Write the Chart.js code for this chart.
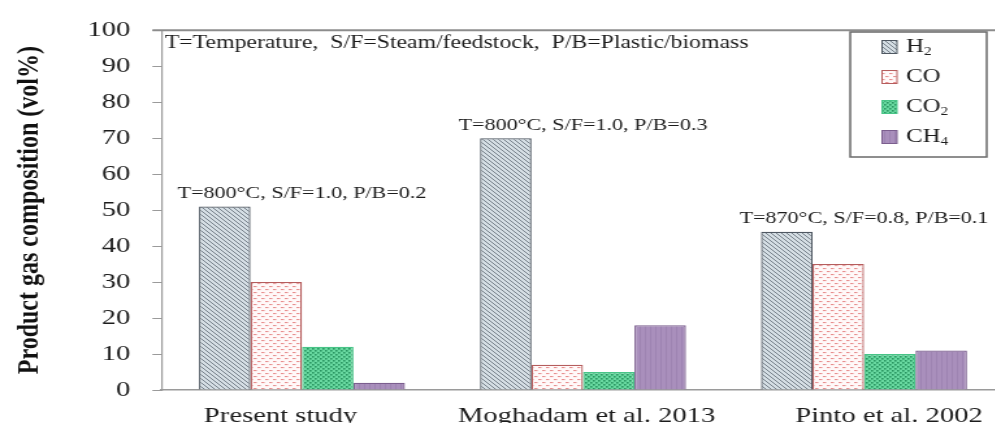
<!DOCTYPE html>
<html>
<head>
<meta charset="utf-8">
<script src="https://cdn.jsdelivr.net/npm/chart.js@4.4.1/dist/chart.umd.min.js"></script>
<style>
  html, body { margin: 0; padding: 0; background: #fff; overflow: hidden; width: 995px; height: 423px; }
  /* the figure is laid out in a narrower space and widened horizontally */
  #wrap { width: 780px; height: 423px; transform: scaleX(1.3); transform-origin: 0 0; }
</style>
</head>
<body>
<div id="wrap"><canvas id="c" width="780" height="423"></canvas></div>
<script>
// ---- data ----
const studies = ['Present study', 'Moghadam et al. 2013', 'Pinto et al. 2002'];
const conditions = ['T=800°C, S/F=1.0, P/B=0.2', 'T=800°C, S/F=1.0, P/B=0.3', 'T=870°C, S/F=0.8, P/B=0.1'];
const gasNames = ['H₂', 'CO', 'CO₂', 'CH₄'];
const h2Values  = [51, 70, 44];
const coValues  = [30, 7, 35];
const co2Values = [12, 5, 10];
const ch4Values = [2, 18, 11];
const yTicks = [0, 10, 20, 30, 40, 50, 60, 70, 80, 90, 100];
const yTitle = 'Product gas composition (vol%)';
const footnote = 'T=Temperature,  S/F=Steam/feedstock,  P/B=Plastic/biomass';

const SERIF = '"Liberation Serif", "Times New Roman", serif';
const TEXT = '#1c1c1c';
const canvas = document.getElementById('c');
const ctx0 = canvas.getContext('2d');

// ---- fill patterns for the bars ----
function tile(w, h, paint) {
  const t = document.createElement('canvas');
  t.width = w; t.height = h;
  paint(t.getContext('2d'));
  return ctx0.createPattern(t, 'repeat');
}
const patH2 = tile(4, 4, g => {
  g.fillStyle = '#d5dee4'; g.fillRect(0, 0, 4, 4);
  g.strokeStyle = '#5e6974'; g.lineWidth = 0.8;
  g.beginPath();
  g.moveTo(-1, -1); g.lineTo(5, 5);
  g.moveTo(-1, 3); g.lineTo(1, 5);
  g.moveTo(3, -1); g.lineTo(5, 1);
  g.stroke();
});
const patCO = tile(6, 6, g => {
  g.fillStyle = '#fff9f9'; g.fillRect(0, 0, 6, 6);
  g.fillStyle = '#e89090';
  g.fillRect(0, 1, 2.5, 1.1);
  g.fillRect(3, 4, 2.5, 1.1);
});
const patCO2 = tile(4, 4, g => {
  g.fillStyle = '#68d8a0'; g.fillRect(0, 0, 4, 4);
  g.fillStyle = '#2a9662';
  g.fillRect(0, 0, 1.6, 1.6);
  g.fillRect(2, 2, 1.6, 1.6);
});
const patCH4 = tile(4, 1, g => {
  g.fillStyle = '#a98fbc'; g.fillRect(0, 0, 4, 1);
  g.fillStyle = '#9e84b2'; g.fillRect(0, 0, 1, 1);
});

const seriesValues = [h2Values, coValues, co2Values, ch4Values];
const fills = [patH2, patCO, patCO2, patCH4];
const borders = ['#4f5862', '#b55d5d', '#48c487', '#7b5e8e'];

const datasets = gasNames.map((name, i) => ({
  label: name,
  data: seriesValues[i],
  backgroundColor: fills[i],
  borderColor: borders[i],
  borderWidth: 1.3,
  borderSkipped: 'bottom',
  barPercentage: 1.0,
  categoryPercentage: 0.733
}));

// spaces before (+) or after (-) each category label, nudging it sideways
const labelNudge = [-6, 1, 7];
function nudged(text, n) {
  return n >= 0 ? ' '.repeat(n) + text : text + ' '.repeat(-n);
}

// text with unicode subscript digits drawn as real lowered small digits
function drawRich(ctx, text, x, y, size) {
  let cx = x;
  for (const ch of text) {
    const code = ch.codePointAt(0);
    if (code >= 0x2080 && code <= 0x2089) {
      const d = String(code - 0x2080);
      ctx.font = `${size * 0.62}px ${SERIF}`;
      ctx.fillText(d, cx, y + size * 0.26);
      cx += ctx.measureText(d).width;
    } else {
      ctx.font = `${size}px ${SERIF}`;
      ctx.fillText(ch, cx, y);
      cx += ctx.measureText(ch).width;
    }
  }
}

// top border of the plot frame
const framePlugin = {
  id: 'frame',
  afterDraw(chart) {
    const { ctx, chartArea: a } = chart;
    ctx.save();
    ctx.strokeStyle = '#8c8c8c';
    ctx.lineWidth = 2;
    ctx.beginPath();
    ctx.moveTo(a.left - 7, a.top);
    ctx.lineTo(a.right, a.top);
    ctx.stroke();
    ctx.restore();
  }
};

// operating conditions above each group, plus the abbreviation note
const notesPlugin = {
  id: 'notes',
  afterDatasetsDraw(chart) {
    const { ctx, chartArea: a } = chart;
    const xs = chart.scales.x, ys = chart.scales.y;
    ctx.save();
    ctx.fillStyle = TEXT;
    ctx.textBaseline = 'middle';
    ctx.textAlign = 'center';
    ctx.font = `17px ${SERIF}`;
    studies.forEach((s, i) => {
      const top = Math.max(...seriesValues.map(v => v[i]));
      ctx.fillText(conditions[i], xs.getPixelForValue(i), ys.getPixelForValue(top) - 13);
    });
    ctx.textAlign = 'left';
    ctx.font = `18.3px ${SERIF}`;
    ctx.fillText(footnote, a.left + 2.5, a.top + 13);
    ctx.restore();
  }
};

// boxed legend inside the plot, top right
const legendBoxPlugin = {
  id: 'legendBox',
  afterDraw(chart) {
    const { ctx } = chart;
    const bx = 654, by = 32, bw = 105, bh = 125;
    ctx.save();
    ctx.fillStyle = '#ffffff';
    ctx.fillRect(bx, by, bw, bh);
    ctx.strokeStyle = '#6a6a6a';
    ctx.lineWidth = 1.5;
    ctx.strokeRect(bx, by, bw, bh);
    chart.data.datasets.forEach((ds, i) => {
      const cy = 47 + i * 30;
      ctx.fillStyle = ds.backgroundColor;
      ctx.fillRect(678.5, cy - 6.5, 11.5, 13);
      ctx.strokeStyle = ds.borderColor;
      ctx.lineWidth = 1;
      ctx.strokeRect(678.5, cy - 6.5, 11.5, 13);
      ctx.fillStyle = TEXT;
      ctx.textBaseline = 'middle';
      ctx.textAlign = 'left';
      drawRich(ctx, ds.label, 697, cy, 19);
    });
    ctx.restore();
  }
};

new Chart(canvas, {
  type: 'bar',
  data: { labels: studies, datasets },
  plugins: [framePlugin, notesPlugin, legendBoxPlugin],
  options: {
    responsive: false,
    animation: false,
    devicePixelRatio: 1,
    layout: { padding: { top: 21, right: 7.3, left: 0, bottom: 0 } },
    plugins: { legend: { display: false }, tooltip: { enabled: false } },
    scales: {
      x: {
        afterFit: s => { s.height = 33; },
        grid: { display: false, drawTicks: false },
        border: { display: true, color: '#9a9a9a', width: 1.5 },
        ticks: {
          padding: 13, color: TEXT, font: { family: SERIF, size: 22 }, maxRotation: 0, autoSkip: false,
          callback: (v, i) => nudged(studies[i], labelNudge[i])
        }
      },
      y: {
        min: 0, max: 100,
        afterBuildTicks: s => { s.ticks = yTicks.map(v => ({ value: v })); },
        afterFit: s => { s.width = 124.2; },
        grid: { display: true, drawOnChartArea: false, drawTicks: true, tickLength: 7, color: '#9a9a9a', lineWidth: 1 },
        border: { display: true, color: '#9a9a9a', width: 1.2 },
        ticks: { padding: 17, color: TEXT, font: { family: SERIF, size: 22 } },
        title: { display: true, text: yTitle, color: '#111', font: { family: SERIF, size: 24, weight: 'bold' }, padding: { top: 8, bottom: 0 } }
      }
    }
  }
});
</script>
</body>
</html>
